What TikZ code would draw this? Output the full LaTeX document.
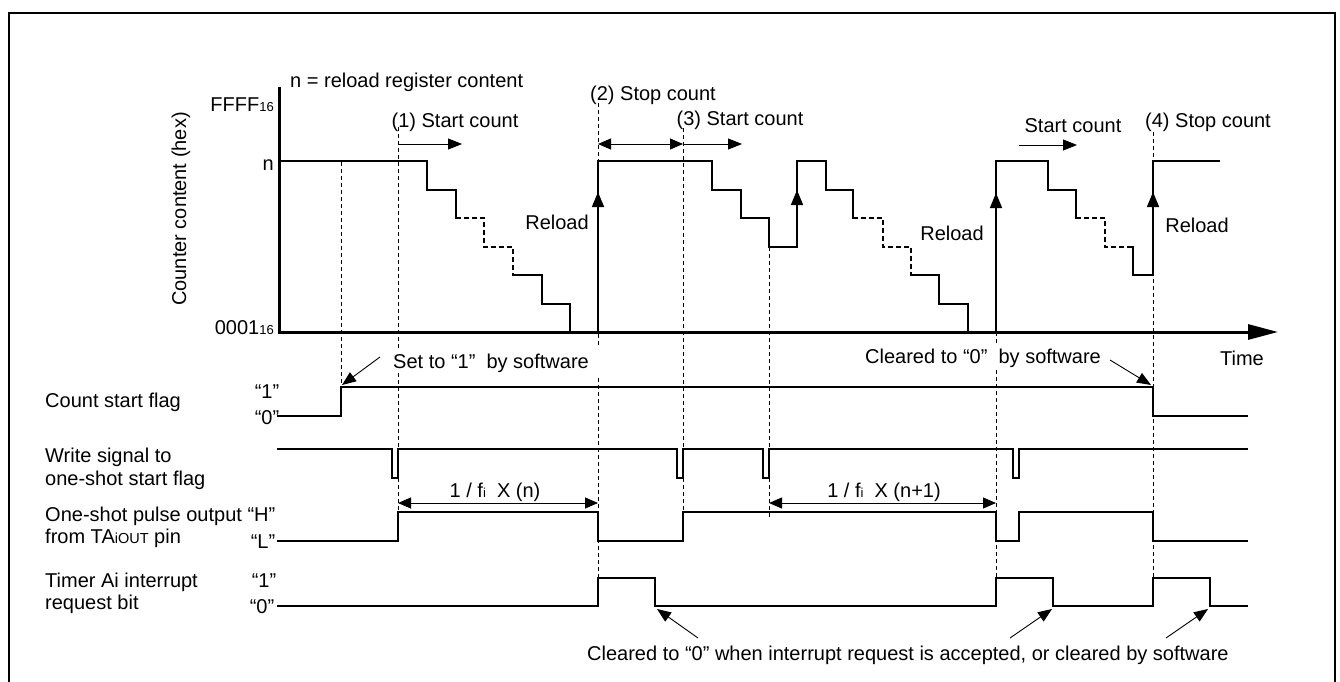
\documentclass[tikz,border=0pt]{standalone}
\usepackage{fontspec}
\setmainfont{Liberation Sans}
\usetikzlibrary{arrows.meta}
\newcommand\mysub[1]{{\fontsize{13}{13}\selectfont #1}}
\newcommand\mysmall[1]{{\fontsize{14.5}{14.5}\selectfont #1}}
\begin{document}
\begin{tikzpicture}[x=1pt,y=-1pt,
  lbl/.style={font=\fontsize{20}{24}\selectfont, inner sep=0pt},
  sig/.style={line width=1.6pt, line cap=rect},
  dsig/.style={line width=1.4pt, dash pattern=on 5pt off 3pt},
  guide/.style={line width=0.9pt, dash pattern=on 4pt off 3pt},
  axisline/.style={line width=3pt},
  ann/.style={line width=0.9pt, -{Triangle[length=14pt,width=11pt]}},
  dbl/.style={line width=0.9pt, {Triangle[length=13pt,width=11pt]}-{Triangle[length=13pt,width=11pt]}},
  rtip/.style={line width=1.6pt, -{Triangle[length=15pt,width=12pt]}}]
\useasboundingbox (0,0) rectangle (1340,682);
\fill[white] (0,0) rectangle (1340,682);
\draw[line width=2pt] (8.5,13.5) rectangle (1335,700);

% axes
\draw[axisline] (279,87) -- (279,332) -- (1250,332);
\draw[line width=3pt, -{Triangle[length=30pt,width=15pt]}] (1240,332) -- (1278,332);

% axis labels
\node[lbl, anchor=base west] (nreload) at (290,88) {n = reload register content};
\node[lbl, anchor=base east] (ffff) at (274,111) {FFFF\mysub{16}};
\node[lbl, anchor=base east] (nlab) at (274,170) {n};
\node[lbl, anchor=base east] (zero) at (274,334) {0001\mysub{16}};
\node[lbl, rotate=90, anchor=base] (ylab) at (186,209) {Counter content (hex)};
\node[lbl, anchor=base] (time) at (1242,365) {Time};

% guides
\draw[guide] (341,162) -- (341,387);
\draw[guide] (398,127) -- (398,350);
\draw[guide] (398,373) -- (398,512);
\draw[guide] (598,103) -- (598,347);
\draw[guide] (598,378) -- (598,578);
\draw[guide] (683,128) -- (683,512);
\draw[guide] (769,247) -- (769,517);
\draw[guide] (996,332) -- (996,343);
\draw[guide] (996,370) -- (996,578);
\draw[guide] (1153,132) -- (1153,578);

% counter content
\draw[sig] (279,161) -- (427,161) -- (427,190) -- (456,190) -- (456,218);
\draw[dsig] (456,218) -- (484,218) -- (484,247) -- (513,247) -- (513,275);
\draw[sig] (513,275) -- (542,275) -- (542,304) -- (570,304) -- (570,332);
\draw[sig] (598,332) -- (598,161) -- (712,161) -- (712,190) -- (741,190) -- (741,218)
  -- (769,218) -- (769,247) -- (797,247) -- (797,161) -- (826,161) -- (826,190)
  -- (853,190) -- (853,218);
\draw[dsig] (853,218) -- (883,218) -- (883,247) -- (911,247) -- (911,275);
\draw[sig] (911,275) -- (939,275) -- (939,304) -- (968,304) -- (968,332);
\draw[sig] (996,332) -- (996,161) -- (1048,161) -- (1048,190) -- (1076,190) -- (1076,218);
\draw[dsig] (1076,218) -- (1105,218) -- (1105,247) -- (1133,247);
\draw[sig] (1133,247) -- (1133,275) -- (1153,275) -- (1153,161) -- (1219,161);

% reload arrow tips
\draw[rtip] (598,222) -- (598,192);
\draw[rtip] (797,220) -- (797,190);
\draw[rtip] (996,222) -- (996,193);
\draw[rtip] (1153,222) -- (1153,192);

\node[lbl, anchor=base] (rl1) at (557,229) {Reload};
\node[lbl, anchor=base] (rl2) at (952,240) {Reload};
\node[lbl, anchor=base] (rl3) at (1197,232) {Reload};

% count labels
\node[lbl, anchor=base] (s1) at (455,128) {(1) Start count};
\node[lbl, anchor=base] (s2) at (653,101) {(2) Stop count};
\node[lbl, anchor=base] (s3) at (740,125) {(3) Start count};
\node[lbl, anchor=base] (s5) at (1073,132) {Start count};
\node[lbl, anchor=base] (s4) at (1208,128) {(4) Stop count};
\draw[ann] (398,144) -- (462,144);
\draw[dbl] (598,144) -- (683,144);
\draw[ann] (683,144) -- (742,144);
\draw[ann] (1019,145) -- (1077,145);

% signal names
\node[lbl, anchor=base west] (csf) at (45,407) {Count start flag};
\node[lbl, anchor=base west] (ws1) at (45,462) {Write signal to};
\node[lbl, anchor=base west] (ws2) at (45,485) {one-shot start flag};
\node[lbl, anchor=base west] (op1) at (45,521) {One-shot pulse output “H”};
\node[lbl, anchor=base west] (op2) at (45,543) {from TA\mysmall{iOUT} pin};
\node[lbl, anchor=base west] (ti1) at (45,587) {Timer Ai interrupt};
\node[lbl, anchor=base west] (ti2) at (45,609) {request bit};
\node[lbl, anchor=base] (c1) at (267,398) {“1”};
\node[lbl, anchor=base] (c0) at (267,424) {“0”};
\node[lbl, anchor=base] (oL) at (263,548) {“L”};
\node[lbl, anchor=base] (t1) at (264,587) {“1”};
\node[lbl, anchor=base] (t0) at (262,613) {“0”};

% signals
\draw[sig] (278,416) -- (341,416) -- (341,387) -- (1153,387) -- (1153,416) -- (1247,416);
\draw[sig] (278,449) -- (392,449) -- (392,478) -- (398,478) -- (398,449) -- (677,449)
  -- (677,478) -- (683,478) -- (683,449) -- (763,449) -- (763,478) -- (769,478)
  -- (769,449) -- (1013,449) -- (1013,478) -- (1019,478) -- (1019,449) -- (1247,449);
\draw[sig] (278,541) -- (398,541) -- (398,512) -- (598,512) -- (598,541) -- (683,541)
  -- (683,512) -- (996,512) -- (996,541) -- (1019,541) -- (1019,512) -- (1153,512)
  -- (1153,541) -- (1247,541);
\draw[sig] (278,606) -- (598,606) -- (598,578) -- (655,578) -- (655,606) -- (996,606)
  -- (996,578) -- (1053,578) -- (1053,606) -- (1153,606) -- (1153,578) -- (1210,578)
  -- (1210,606) -- (1247,606);

% annotations
\node[lbl, anchor=base west] (setsw) at (393,368) {Set to “1”\ \ by software};
\node[lbl, anchor=base west] (clrsw) at (865,363) {Cleared to “0”\ \ by software};
\coordinate (setedge) at (342,385);
\coordinate (clredge) at (1151,385);
\draw[ann] (380,357) -- (setedge);
\draw[ann] (1110,360) -- (clredge);

\node[lbl, anchor=base] (f1) at (495,497) {1 / f\mysub{i}\ \ X (n)};
\node[lbl, anchor=base] (f2) at (884,497) {1 / f\mysub{i}\ \ X (n+1)};
\draw[dbl] (398,503) -- (598,503);
\draw[dbl] (769,503) -- (996,503);

\node[lbl, anchor=base west] (clrint) at (587,660) {Cleared to “0” when interrupt request is accepted, or cleared by software};
\coordinate (fe1) at (657,609);
\coordinate (fe2) at (1052,609);
\coordinate (fe3) at (1208,609);
\draw[ann] (698,638) -- (fe1);
\draw[ann] (1010,638) -- (fe2);
\draw[ann] (1166,638) -- (fe3);
\end{tikzpicture}
\end{document}
